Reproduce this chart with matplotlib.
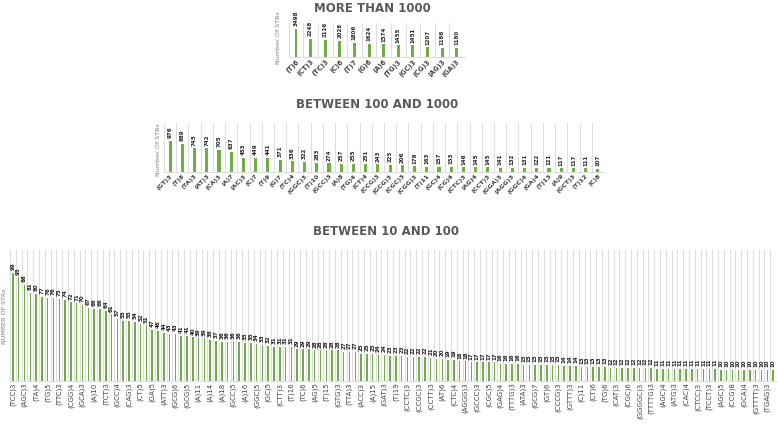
import matplotlib
matplotlib.use("Agg")
import matplotlib.pyplot as plt
import numpy as np

W, H = 778, 428

# ---------------- data ----------------
top_cats = ["(T)6", "(CT)3", "(TC)3", "(C)6", "(T)7", "(G)6", "(A)6", "(TG)3",
            "(GC)3", "(CG)3", "(AG)3", "(GA)3"]
top_vals = [3498, 2248, 2126, 2028, 1806, 1624, 1574, 1455, 1451, 1207, 1186, 1180]

mid_cats = ["(GT)3", "(T)8", "(TA)3", "(AT)3", "(CA)3", "(A)7", "(AC)3", "(C)7",
            "(T)9", "(G)7", "(TC)4", "(GGC)3", "(T)10", "(GCC)3", "(A)8", "(TG)4",
            "(CT)4", "(CCG)3", "(GCG)3", "(CGC)3", "(CGG)3", "(T)11", "(GC)4",
            "(CG)4", "(CTC)3", "(AG)4", "(CCT)3", "(GGA)3", "(AGG)3", "(GGC)4",
            "(GA)4", "(T)13", "(A)9", "(GCT)3", "(T)12", "(C)8"]
mid_vals = [976, 889, 745, 742, 705, 637, 453, 449, 441, 371, 336, 322, 283, 274,
            257, 255, 251, 243, 225, 206, 178, 163, 157, 153, 146, 145, 145, 141,
            132, 131, 122, 121, 117, 117, 111, 107]

# bottom chart: only every other category label is printed
bot_labels = ["(TCC)3", "(AGC)3", "(TA)4", "(TG)5", "(TTC)3", "(CGG)4", "(GCA)3",
              "(A)10", "(TCT)3", "(GCC)4", "(CAG)3", "(CT)5", "(GA)5", "(ATT)3",
              "(GCG)6", "(GCG)5", "(A)11", "(A)14", "(A)18", "(GCC)5", "(A)16",
              "(GGC)5", "(GC)5", "(CTT)3", "(T)16", "(TC)6", "(AG)5", "(T)15",
              "(GTG)3", "(TTA)3", "(ACC)3", "(A)15", "(GAT)3", "(T)19", "(CCTC)3",
              "(CCGC)3", "(CCTT)3", "(AT)6", "(CTC)4", "(AGGG)3", "(GCCC)3",
              "(CGC)5", "(GAG)4", "(TTTG)3", "(ATA)3", "(GCG)7", "(GT)6",
              "(CCCG)3", "(GTTT)3", "(C)11", "(CT)6", "(TG)6", "(CAT)3", "(CGC)6",
              "(GGGGC)3", "(TTTTG)3", "(AGC)4", "(ATG)3", "(CAC)4", "(CTCC)3",
              "(TCCT)3", "(AGC)5", "(CCG)8", "(GCA)4", "(GTTTT)3", "(TGAG)3"]
bot_vals = [99, 95, 88, 81, 80, 77, 76, 76, 75, 74, 72, 71, 70, 67, 66, 66, 64, 61,
            57, 55, 55, 54, 52, 51, 47, 46, 44, 43, 43, 41, 41, 40, 39, 39, 38, 37,
            36, 36, 36, 36, 35, 35, 34, 33, 32, 31, 31, 31, 31, 29, 29, 29, 28, 28,
            28, 28, 28, 27, 27, 27, 25, 25, 25, 24, 24, 23, 23, 23, 22, 22, 22, 22,
            21, 20, 20, 19, 19, 18, 18, 17, 17, 17, 17, 17, 16, 16, 16, 16, 15, 15,
            15, 15, 15, 15, 15, 14, 14, 14, 13, 13, 13, 13, 13, 12, 12, 12, 12, 12,
            12, 12, 12, 11, 11, 11, 11, 11, 11, 11, 11, 11, 11, 11, 10, 10, 10, 10,
            10, 10, 10, 10, 10, 10]

# ---------------- style ----------------
GREEN = "#70AD47"
GRID = "#dcdcdc"
TXT = "#404040"
TITLE = "#595959"

fig = plt.figure(figsize=(W / 100, H / 100), dpi=100)
fig.patch.set_facecolor("white")


def px_axes(left, right, top, bottom):
    return fig.add_axes([left / W, 1 - bottom / H, (right - left) / W, (bottom - top) / H])


def style(ax, n, ymax):
    ax.set_xlim(-0.5, n - 0.5)
    ax.set_ylim(0, ymax)
    for s in ["top", "right", "left"]:
        ax.spines[s].set_visible(False)
    ax.spines["bottom"].set_color(GRID)
    ax.spines["bottom"].set_linewidth(0.8)
    ax.set_yticks([])
    ax.set_xticks(np.arange(n + 1) - 0.5, minor=True)
    ax.grid(True, which="minor", axis="x", color=GRID, lw=0.7)
    ax.tick_params(axis="x", which="both", length=0, pad=1)
    ax.set_axisbelow(True)
    ax.patch.set_alpha(0)


def value_labels(ax, vals, fs):
    for i, v in enumerate(vals):
        ax.annotate(str(v), (i, v), xytext=(0, 2), textcoords="offset points",
                    rotation=90, ha="center", va="bottom", fontsize=fs,
                    fontweight="bold", color="#262626")


# ---- top panel ----
ax1 = px_axes(288.7, 464, 23, 57)
x1 = np.arange(len(top_vals))
ax1.bar(x1, top_vals, width=0.2, color=GREEN)
style(ax1, len(top_vals), 4250)
ax1.set_xticks(x1)
ax1.set_xticklabels(top_cats, rotation=45, ha="right", rotation_mode="anchor",
                    fontsize=4.8, fontweight="bold", color=TXT)
value_labels(ax1, top_vals, 4.0)
fig.text(372 / W, 1 - 8 / H, "MORE THAN 1000", ha="center", va="center",
         fontsize=8.5, fontweight="bold", color=TITLE)
fig.text(278 / W, 1 - 38 / H, "Number Of STRs", rotation=90, ha="center",
         va="center", fontsize=4.6, color="#7f7f7f")

# ---- middle panel ----
ax2 = px_axes(164, 604, 123, 172)
x2 = np.arange(len(mid_vals))
ax2.bar(x2, mid_vals, width=0.25, color=GREEN)
style(ax2, len(mid_vals), 1545)
ax2.set_xticks(x2)
ax2.set_xticklabels(mid_cats, rotation=45, ha="right", rotation_mode="anchor",
                    fontsize=4.6, fontweight="bold", color=TXT)
value_labels(ax2, mid_vals, 4.0)
fig.text(377 / W, 1 - 105 / H, "BETWEEN 100 AND 1000", ha="center", va="center",
         fontsize=8.5, fontweight="bold", color=TITLE)
fig.text(158 / W, 1 - 150 / H, "Number Of STRs", rotation=90, ha="center",
         va="center", fontsize=4.6, color="#7f7f7f")

# ---- bottom panel ----
ax3 = px_axes(10, 776, 250, 381)
x3 = np.arange(len(bot_vals))
ax3.bar(x3, bot_vals, width=0.26, color=GREEN)
style(ax3, len(bot_vals), 120)
ax3.set_xticks(x3[::2])
ax3.set_xticklabels(bot_labels, rotation=90, ha="center", va="top",
                    fontsize=5.0, color=TXT)
value_labels(ax3, bot_vals, 4.0)
fig.text(386 / W, 1 - 232 / H, "BETWEEN 10 AND 100", ha="center", va="center",
         fontsize=8.5, fontweight="bold", color=TITLE)
fig.text(5 / W, 1 - 316 / H, "NUMBER OF STRs", rotation=90, ha="center",
         va="center", fontsize=4.6, color="#7f7f7f")

fig.savefig("out.png", dpi=100, facecolor="white")
